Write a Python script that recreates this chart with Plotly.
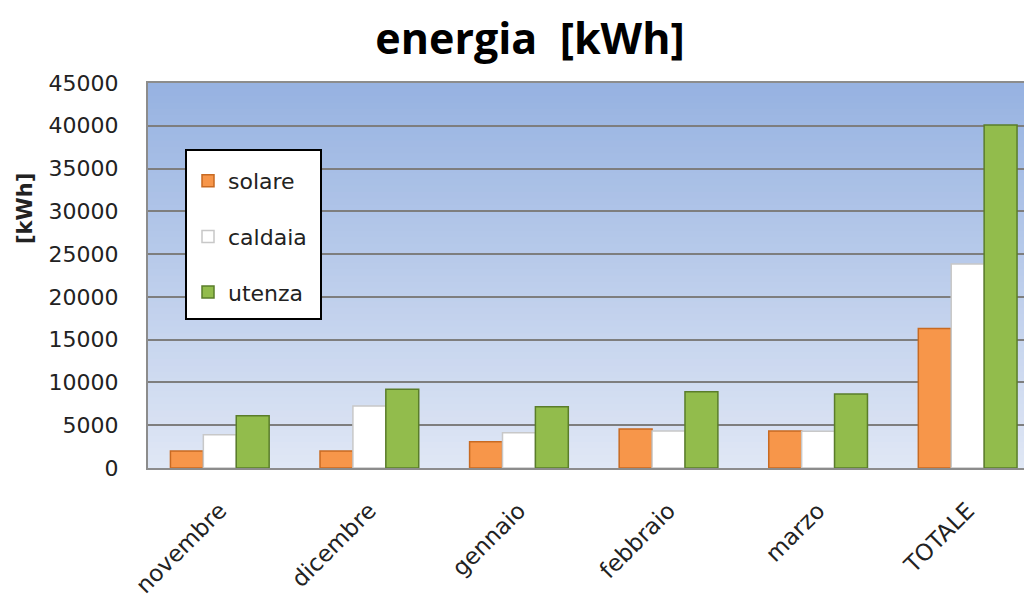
import plotly.graph_objects as go

categories = ["novembre", "dicembre", "gennaio", "febbraio", "marzo", "TOTALE"]
solare = [2000, 2000, 3070, 4560, 4320, 16300]
caldaia = [3900, 7250, 4130, 4320, 4300, 23850]
utenza = [6100, 9200, 7170, 8920, 8650, 40100]
y_ticks = [0, 5000, 10000, 15000, 20000, 25000, 30000, 35000, 40000, 45000]

series = [
    ("solare", solare, "#F7964A", "#C86A22"),
    ("caldaia", caldaia, "#FFFFFF", "#C8C8C8"),
    ("utenza", utenza, "#92BC4C", "#5A7D2A"),
]

# page offset (body margin of the html page)
OFF = 8
W, H = 1032 - OFF, 600 - OFF
L, T, B = 148 - OFF, 83 - OFF, 600 - 468
PW, PH = 884, 385


def px(xp):
    return (xp - 148) / PW


def py(yp):
    return (468 - yp) / PH


fig = go.Figure()
for i, (name, vals, col, edge) in enumerate(series):
    fig.add_trace(go.Bar(
        x=categories, y=vals, name=name, legendgroup=f"g{i}",
        marker=dict(color=col, line=dict(color=edge, width=1.5)),
    ))

# gradient plot background
top = (150, 178, 225)
bot = (224, 231, 245)
n = 60
shapes = []
for k in range(n):
    t0 = k / n
    t1 = (k + 1) / n
    f = (k + 0.5) / n
    c = tuple(round(bot[j] + (top[j] - bot[j]) * f) for j in range(3))
    shapes.append(dict(type="rect", xref="x domain", yref="y domain",
                       x0=0, x1=1, y0=t0, y1=t1 + 0.002,
                       fillcolor=f"rgb{c}", line=dict(width=0), layer="below"))
# legend box
shapes.append(dict(type="rect", xref="paper", yref="paper",
                   x0=px(186), x1=px(321), y0=py(319), y1=py(150),
                   fillcolor="white", line=dict(color="black", width=2), layer="above"))

fig.update_layout(
    width=W, height=H,
    margin=dict(l=L, r=0, t=T, b=B, autoexpand=False),
    paper_bgcolor="white",
    plot_bgcolor="rgb(190,206,236)",
    shapes=shapes,
    barmode="group",
    bargap=0.34,
    bargroupgap=0,
    title=dict(text="<b>energia  [kWh]</b>", x=(530 - OFF) / W, xanchor="center",
               y=1 - (39 - OFF) / H, yanchor="middle", xref="container", yref="container",
               font=dict(family="Open Sans", size=43, color="black")),
    font=dict(family="DejaVu Sans", color="#222222"),
    showlegend=True,
    legend=dict(x=px(188), y=py(160), xanchor="left", yanchor="top",
                bgcolor="rgba(0,0,0,0)", borderwidth=0,
                font=dict(family="DejaVu Sans", size=22, color="#222"),
                tracegroupgap=24, itemwidth=30),
    annotations=[dict(text="<b>[kWh]</b>", xref="paper", yref="paper",
                      x=px(25), y=py(209), xanchor="center", yanchor="middle",
                      textangle=-90, showarrow=False,
                      font=dict(family="DejaVu Sans", size=21, color="#222"))],
)
fig.update_xaxes(range=[-0.48, 5.43], tickangle=-45, showgrid=False, automargin=False,
                 tickfont=dict(family="DejaVu Sans", size=23, color="#222"),
                 showline=True, linecolor="#8C8C8C", linewidth=2, mirror=True,
                 ticks="", ticklabelstandoff=18)
fig.update_yaxes(range=[0, 45000], tickvals=y_ticks, ticktext=[str(v) for v in y_ticks],
                 showgrid=True, gridcolor="#7E7E7E", gridwidth=2, automargin=False,
                 tickfont=dict(family="DejaVu Sans", size=22, color="#222"),
                 showline=True, linecolor="#8C8C8C", linewidth=2, mirror=True,
                 ticks="", ticklabelstandoff=23, zeroline=False)

fig.write_html("out.html")
